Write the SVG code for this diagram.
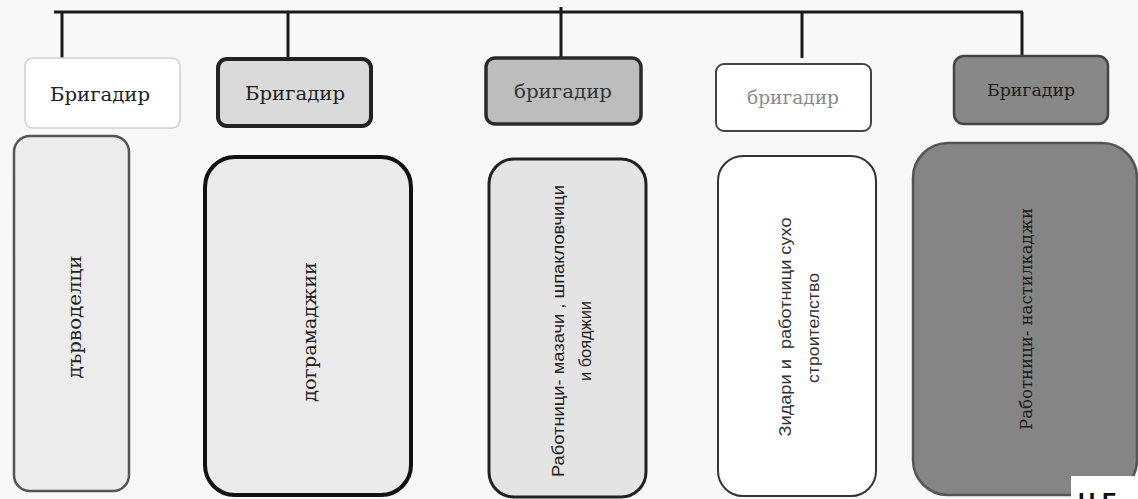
<svg xmlns="http://www.w3.org/2000/svg" width="1138" height="499" viewBox="0 0 1138 499">
<style>
.conn{stroke:#1a1a1a;stroke-width:3;fill:none;}
.sf{font-family:"DejaVu Serif","Liberation Serif","Times New Roman",serif;}
.ss{font-family:"Liberation Sans",Arial,sans-serif;}
</style>
<rect x="0" y="0" width="1138" height="499" fill="#f8f8f8"/>
<g id="connectors">
<line class="conn" x1="54" y1="12" x2="1023" y2="12"/>
<line class="conn" x1="62" y1="12" x2="62" y2="58"/>
<line class="conn" x1="288" y1="12" x2="288" y2="58"/>
<line class="conn" x1="561" y1="7" x2="561" y2="57"/>
<line class="conn" x1="802" y1="12" x2="802" y2="58"/>
<line class="conn" x1="1022" y1="12" x2="1022" y2="56"/>
</g>
<g id="b1">
<rect x="25" y="58" width="155" height="70" rx="8" fill="#ffffff" stroke="#cfcfcf" stroke-width="1.5"/>
<text class="sf" x="100" y="101" font-size="19" text-anchor="middle" fill="#222" textLength="100" lengthAdjust="spacingAndGlyphs">Бригадир</text>
</g>
<g id="b2">
<rect x="218" y="59" width="153" height="67" rx="9" fill="#dadada" stroke="#222" stroke-width="4"/>
<text class="sf" x="295" y="100" font-size="19" text-anchor="middle" fill="#222" textLength="100" lengthAdjust="spacingAndGlyphs">Бригадир</text>
</g>
<g id="b3">
<rect x="486" y="58" width="155" height="66" rx="9" fill="#bdbdbd" stroke="#2a2a2a" stroke-width="3.5"/>
<text class="sf" x="563" y="98" font-size="19" text-anchor="middle" fill="#333" textLength="98" lengthAdjust="spacingAndGlyphs">бригадир</text>
</g>
<g id="b4">
<rect x="716" y="64" width="155" height="67" rx="8" fill="#ffffff" stroke="#444" stroke-width="2"/>
<text class="sf" x="793" y="104" font-size="18" text-anchor="middle" fill="#8a8a8a" textLength="92" lengthAdjust="spacingAndGlyphs">бригадир</text>
</g>
<g id="b5">
<rect x="954" y="56" width="154" height="68" rx="10" fill="#888888" stroke="#444" stroke-width="2.5"/>
<text class="sf" x="1031" y="96" font-size="17" text-anchor="middle" fill="#1a1a1a" textLength="88" lengthAdjust="spacingAndGlyphs">Бригадир</text>
</g>
<g id="w1">
<rect x="14" y="136" width="115" height="355" rx="16" fill="#ececec" stroke="#555" stroke-width="2.5"/>
<text class="sf" transform="translate(81,317) rotate(-90)" font-size="18" text-anchor="middle" fill="#222" textLength="123" lengthAdjust="spacingAndGlyphs">дърводелци</text>
</g>
<g id="w2">
<rect x="205" y="157" width="206" height="338" rx="30" fill="#ebebeb" stroke="#111" stroke-width="4"/>
<text class="sf" transform="translate(316,332) rotate(-90)" font-size="18" text-anchor="middle" fill="#222" textLength="140" lengthAdjust="spacingAndGlyphs">дограмаджии</text>
</g>
<g id="w3">
<rect x="489" y="159" width="157" height="338" rx="25" fill="#e4e4e4" stroke="#222" stroke-width="3"/>
<text class="ss" transform="translate(564,331) rotate(-90)" font-size="17" text-anchor="middle" fill="#222" textLength="292" lengthAdjust="spacingAndGlyphs">Работници- мазачи , шпакловчици</text>
<text class="ss" transform="translate(591,341) rotate(-90)" font-size="17" text-anchor="middle" fill="#222" textLength="80" lengthAdjust="spacingAndGlyphs">и бояджии</text>
</g>
<g id="w4">
<rect x="718" y="156" width="158" height="340" rx="25" fill="#ffffff" stroke="#333" stroke-width="2"/>
<text class="ss" transform="translate(791,327) rotate(-90)" font-size="17" text-anchor="middle" fill="#333" xml:space="preserve" textLength="219" lengthAdjust="spacingAndGlyphs">Зидари и  работници сухо</text>
<text class="ss" transform="translate(819,328) rotate(-90)" font-size="17" text-anchor="middle" fill="#333" textLength="110" lengthAdjust="spacingAndGlyphs">строителство</text>
</g>
<g id="w5">
<rect x="913" y="143" width="224" height="352" rx="35" fill="#858585" stroke="#555" stroke-width="2.5"/>
<text class="sf" transform="translate(1032,319) rotate(-90)" font-size="16" text-anchor="middle" fill="#1a1a1a" textLength="222" lengthAdjust="spacingAndGlyphs">Работници- настилкаджи</text>
</g>
<g id="corner-label">
<rect x="1071" y="476" width="67" height="23" fill="#ffffff"/>
<text class="ss" x="1078" y="510" font-size="24" font-weight="bold" fill="#111">Н.Г</text>
</g>
</svg>
